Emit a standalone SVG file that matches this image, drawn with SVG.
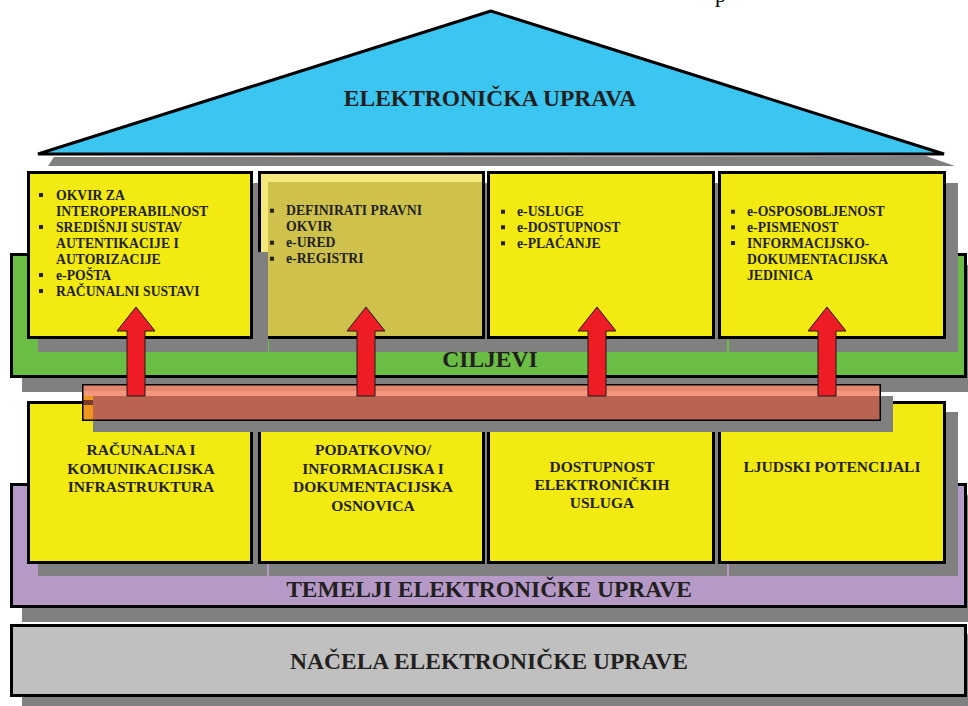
<svg xmlns="http://www.w3.org/2000/svg" width="968" height="706" viewBox="0 0 968 706">
<style>
  .sh{fill:#808080}
  .box{fill:#F3EA12;stroke:#000;stroke-width:3}
  .t{font-family:"Liberation Serif","Times New Roman",serif;font-weight:bold;fill:#231F20}
  .big{font-size:23.5px;text-anchor:middle}
  .sm{font-size:13.7px}
  .md{font-size:15.5px;text-anchor:middle}
  .bul{fill:#231F20}
  .arrow{fill:#EE1C25;stroke:#1a1a1a;stroke-width:1}
</style>
<rect width="968" height="706" fill="#fff"/>
<text x="715" y="2" style="font-family:'Liberation Serif','Times New Roman',serif;font-size:22px;fill:#000">p</text>

<g id="roof">
  <polygon class="sh" points="54,157 926,156 955,166 48,166"/>
  <polygon points="491,11 38,154 944,154" fill="#3BC6F2" stroke="#000" stroke-width="3" stroke-linejoin="miter"/>
  <text class="t big" x="490" y="106">ELEKTRONIČKA UPRAVA</text>
</g>

<g id="ciljevi">
  <rect class="sh" x="22" y="265" width="946" height="127"/>
  <rect x="11.5" y="254.5" width="954" height="122" fill="#6ABD45" stroke="#000" stroke-width="3"/>
  <text class="t big" x="490" y="367">CILJEVI</text>
</g>

<g id="cilj1">
  <rect class="sh" x="38" y="183" width="229" height="169"/>
  <rect class="box" x="28.5" y="172.5" width="223" height="165"/>
  <rect class="bul" x="39" y="193" width="4" height="4"/>
  <rect class="bul" x="39" y="225" width="4" height="4"/>
  <rect class="bul" x="39" y="273" width="4" height="4"/>
  <rect class="bul" x="39" y="289" width="4" height="4"/>
  <text class="t sm" x="56" y="200">OKVIR ZA</text>
  <text class="t sm" x="56" y="216">INTEROPERABILNOST</text>
  <text class="t sm" x="56" y="232">SREDIŠNJI SUSTAV</text>
  <text class="t sm" x="56" y="248">AUTENTIKACIJE I</text>
  <text class="t sm" x="56" y="264">AUTORIZACIJE</text>
  <text class="t sm" x="56" y="280">e-POŠTA</text>
  <text class="t sm" x="56" y="296">RAČUNALNI SUSTAVI</text>
</g>

<g id="cilj2">
  <rect class="sh" x="269" y="183" width="229" height="169"/>
  <rect x="259.5" y="172.5" width="224" height="165" fill="#F5E87A" stroke="#000" stroke-width="3"/>
  <rect x="268" y="182" width="214" height="154" fill="#CFC24C"/>
  <rect class="sh" x="253" y="252" width="15" height="100"/>
  <rect class="bul" x="270" y="208.7" width="4" height="4"/>
  <rect class="bul" x="270" y="240.7" width="4" height="4"/>
  <rect class="bul" x="270" y="256.7" width="4" height="4"/>
  <text class="t sm" x="286" y="215">DEFINIRATI PRAVNI</text>
  <text class="t sm" x="286" y="231">OKVIR</text>
  <text class="t sm" x="286" y="247">e-URED</text>
  <text class="t sm" x="286" y="263">e-REGISTRI</text>
</g>

<g id="cilj3">
  <rect class="sh" x="498" y="183" width="229" height="169"/>
  <rect class="box" x="488.5" y="172.5" width="225" height="165"/>
  <rect class="bul" x="501" y="209.7" width="4" height="4"/>
  <rect class="bul" x="501" y="225.3" width="4" height="4"/>
  <rect class="bul" x="501" y="241.3" width="4" height="4"/>
  <text class="t sm" x="517" y="216">e-USLUGE</text>
  <text class="t sm" x="517" y="232">e-DOSTUPNOST</text>
  <text class="t sm" x="517" y="248">e-PLAĆANJE</text>
</g>

<g id="cilj4">
  <rect class="sh" x="729" y="183" width="229" height="169"/>
  <rect class="box" x="719.5" y="172.5" width="225" height="165"/>
  <rect class="bul" x="731" y="209.7" width="4" height="4"/>
  <rect class="bul" x="731" y="225.3" width="4" height="4"/>
  <rect class="bul" x="731" y="241" width="4" height="4"/>
  <text class="t sm" x="747" y="216">e-OSPOSOBLJENOST</text>
  <text class="t sm" x="747" y="232">e-PISMENOST</text>
  <text class="t sm" x="747" y="248">INFORMACIJSKO-</text>
  <text class="t sm" x="747" y="264">DOKUMENTACIJSKA</text>
  <text class="t sm" x="747" y="280">JEDINICA</text>
</g>

<g id="temelji">
  <rect class="sh" x="22" y="495" width="946" height="127"/>
  <rect x="11.5" y="484.5" width="954" height="122" fill="#B59AC8" stroke="#000" stroke-width="3"/>
  <text class="t big" x="489" y="597">TEMELJI ELEKTRONIČKE UPRAVE</text>
</g>

<g id="temelj1">
  <rect class="sh" x="38" y="412" width="229" height="164"/>
  <rect class="box" x="28.5" y="402.5" width="223" height="160"/>
  <text class="t md" x="141" y="455">RAČUNALNA I</text>
  <text class="t md" x="141" y="473.5">KOMUNIKACIJSKA</text>
  <text class="t md" x="141" y="492">INFRASTRUKTURA</text>
</g>
<g id="temelj2">
  <rect class="sh" x="269" y="412" width="229" height="164"/>
  <rect class="box" x="259.5" y="402.5" width="224" height="160"/>
  <text class="t md" x="373" y="455">PODATKOVNO/</text>
  <text class="t md" x="373" y="473.5">INFORMACIJSKA I</text>
  <text class="t md" x="373" y="492">DOKUMENTACIJSKA</text>
  <text class="t md" x="373" y="510.5">OSNOVICA</text>
</g>
<g id="temelj3">
  <rect class="sh" x="498" y="412" width="229" height="164"/>
  <rect class="box" x="488.5" y="402.5" width="225" height="160"/>
  <text class="t md" x="602" y="472">DOSTUPNOST</text>
  <text class="t md" x="602" y="490">ELEKTRONIČKIH</text>
  <text class="t md" x="602" y="508">USLUGA</text>
</g>
<g id="temelj4">
  <rect class="sh" x="729" y="412" width="229" height="164"/>
  <rect class="box" x="719.5" y="402.5" width="225" height="160"/>
  <text class="t md" x="832" y="472">LJUDSKI POTENCIJALI</text>
</g>

<g id="nacela">
  <rect class="sh" x="22" y="634" width="946" height="72"/>
  <rect x="11.5" y="625.5" width="954" height="70" fill="#C0C0C0" stroke="#000" stroke-width="3"/>
  <text class="t big" x="489" y="669">NAČELA ELEKTRONIČKE UPRAVE</text>
</g>

<g id="bar">
  <rect class="sh" x="93" y="396" width="800" height="36"/>
  <rect x="82" y="384" width="799" height="12" fill="#F4977E"/>
  <rect x="82" y="385" width="799" height="6" fill="#E5876F"/>
  <rect x="93" y="396" width="788" height="25" fill="#B96452"/>
  <rect x="82" y="396" width="11" height="25" fill="#EE961E"/>
  <rect x="82" y="400" width="11" height="5" fill="#7A3A2A"/>
  <rect x="82.75" y="384.75" width="797.5" height="35.5" fill="none" stroke="#000" stroke-width="1.5"/>
</g>

<g id="connectors">
  <path class="arrow" d="M136,307 L155,331 L145,331 L145,396 L127,396 L127,331 L117,331 Z"/>
  <path class="arrow" d="M366,307 L385,331 L375,331 L375,396 L357,396 L357,331 L347,331 Z"/>
  <path class="arrow" d="M597,307 L616,331 L606,331 L606,396 L588,396 L588,331 L578,331 Z"/>
  <path class="arrow" d="M827,307 L846,331 L836,331 L836,396 L818,396 L818,331 L808,331 Z"/>
</g>
</svg>
